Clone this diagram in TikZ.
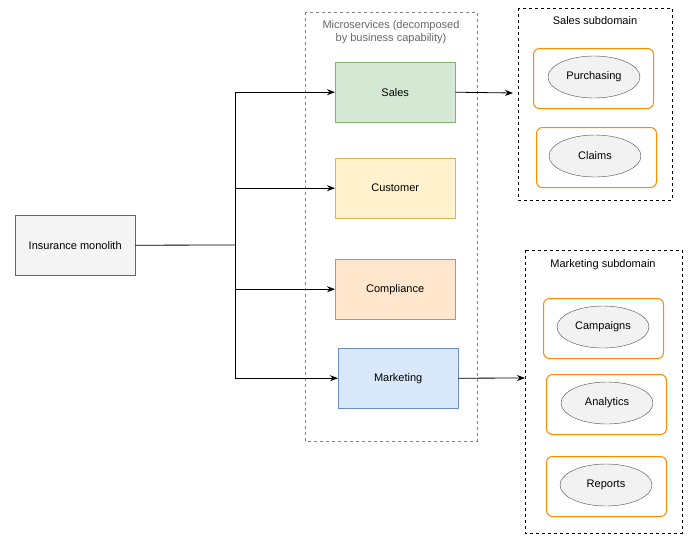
\documentclass[tikz,border=0pt]{standalone}
\usepackage{fontspec}
\setmainfont{Liberation Sans}
\usetikzlibrary{arrows.meta,shapes.geometric}
\definecolor{orb}{HTML}{FF8C00}
\begin{document}
\begin{tikzpicture}[x=1pt,y=-1pt,font=\fontsize{11}{13}\selectfont,
 box/.style={draw,minimum width=120pt,minimum height=60pt,anchor=north west,inner sep=0},
 sub/.style={draw=orb,line width=1pt,rounded corners=6pt,minimum width=120pt,minimum height=60pt,anchor=north west,inner sep=0},
 ell/.style={draw=black!70,fill=black!5,ellipse,minimum width=92pt,minimum height=42pt,inner sep=0},
 arr/.style={-{Stealth[length=8pt,width=6pt]},line width=0.8pt}]
\useasboundingbox (0,0) rectangle (691,542);
\draw[dashed,draw=black!50] (305,12) rectangle (477,441);
\node[text=black!60,align=center,font=\fontsize{11}{13}\selectfont] (mt) at (391,32) {Microservices (decomposed\\by business capability)};
\node[box,fill=black!4,draw=black!60] (mono) at (15,215) {Insurance monolith};
\node[box,fill={rgb,255:red,213;green,232;blue,212},draw={rgb,255:red,130;green,179;blue,102}] (sales) at (335,62) {Sales};
\node[box,fill={rgb,255:red,255;green,242;blue,204},draw={rgb,255:red,214;green,182;blue,86}] (cust) at (335,158) {Customer};
\node[box,fill={rgb,255:red,255;green,230;blue,204},draw={rgb,255:red,215;green,155;blue,0}] (comp) at (335,259) {Compliance};
\node[box,fill={rgb,255:red,218;green,232;blue,252},draw={rgb,255:red,108;green,142;blue,191}] (mark) at (338,348) {Marketing};
\coordinate (j) at (235,245);
\draw[line width=0.8pt] (mono.east) -- (j);
\draw[arr] (j) |- (sales.west);
\draw[arr] (j) |- (cust.west);
\draw[arr] (j) |- (comp.west);
\draw[arr] (j) |- (mark.west);
% sales subdomain
\draw[dashed] (518,8) rectangle (672,200);
\node (st) at (595,21) {Sales subdomain};
\node[sub] (s1) at (533,48) {};
\node[ell] (pur) at (594,77) {Purchasing};
\node[sub] (s2) at (536,127) {};
\node[ell] (cla) at (595,156) {Claims};
\coordinate (se) at (513,93);
\draw[arr] (sales.east) -- (se);
% marketing subdomain
\draw[dashed] (525,250) rectangle (682,533);
\node (mt2) at (603,265) {Marketing subdomain};
\node[sub] (m1) at (543,298) {};
\node[ell] (cam) at (603,327) {Campaigns};
\node[sub] (m2) at (546,374) {};
\node[ell] (ana) at (607,403) {Analytics};
\node[sub] (m3) at (546,456) {};
\node[ell] (rep) at (606,485) {Reports};
\coordinate (me) at (525,378);
\draw[arr] (mark.east) -- (me);
\end{tikzpicture}
\end{document}
